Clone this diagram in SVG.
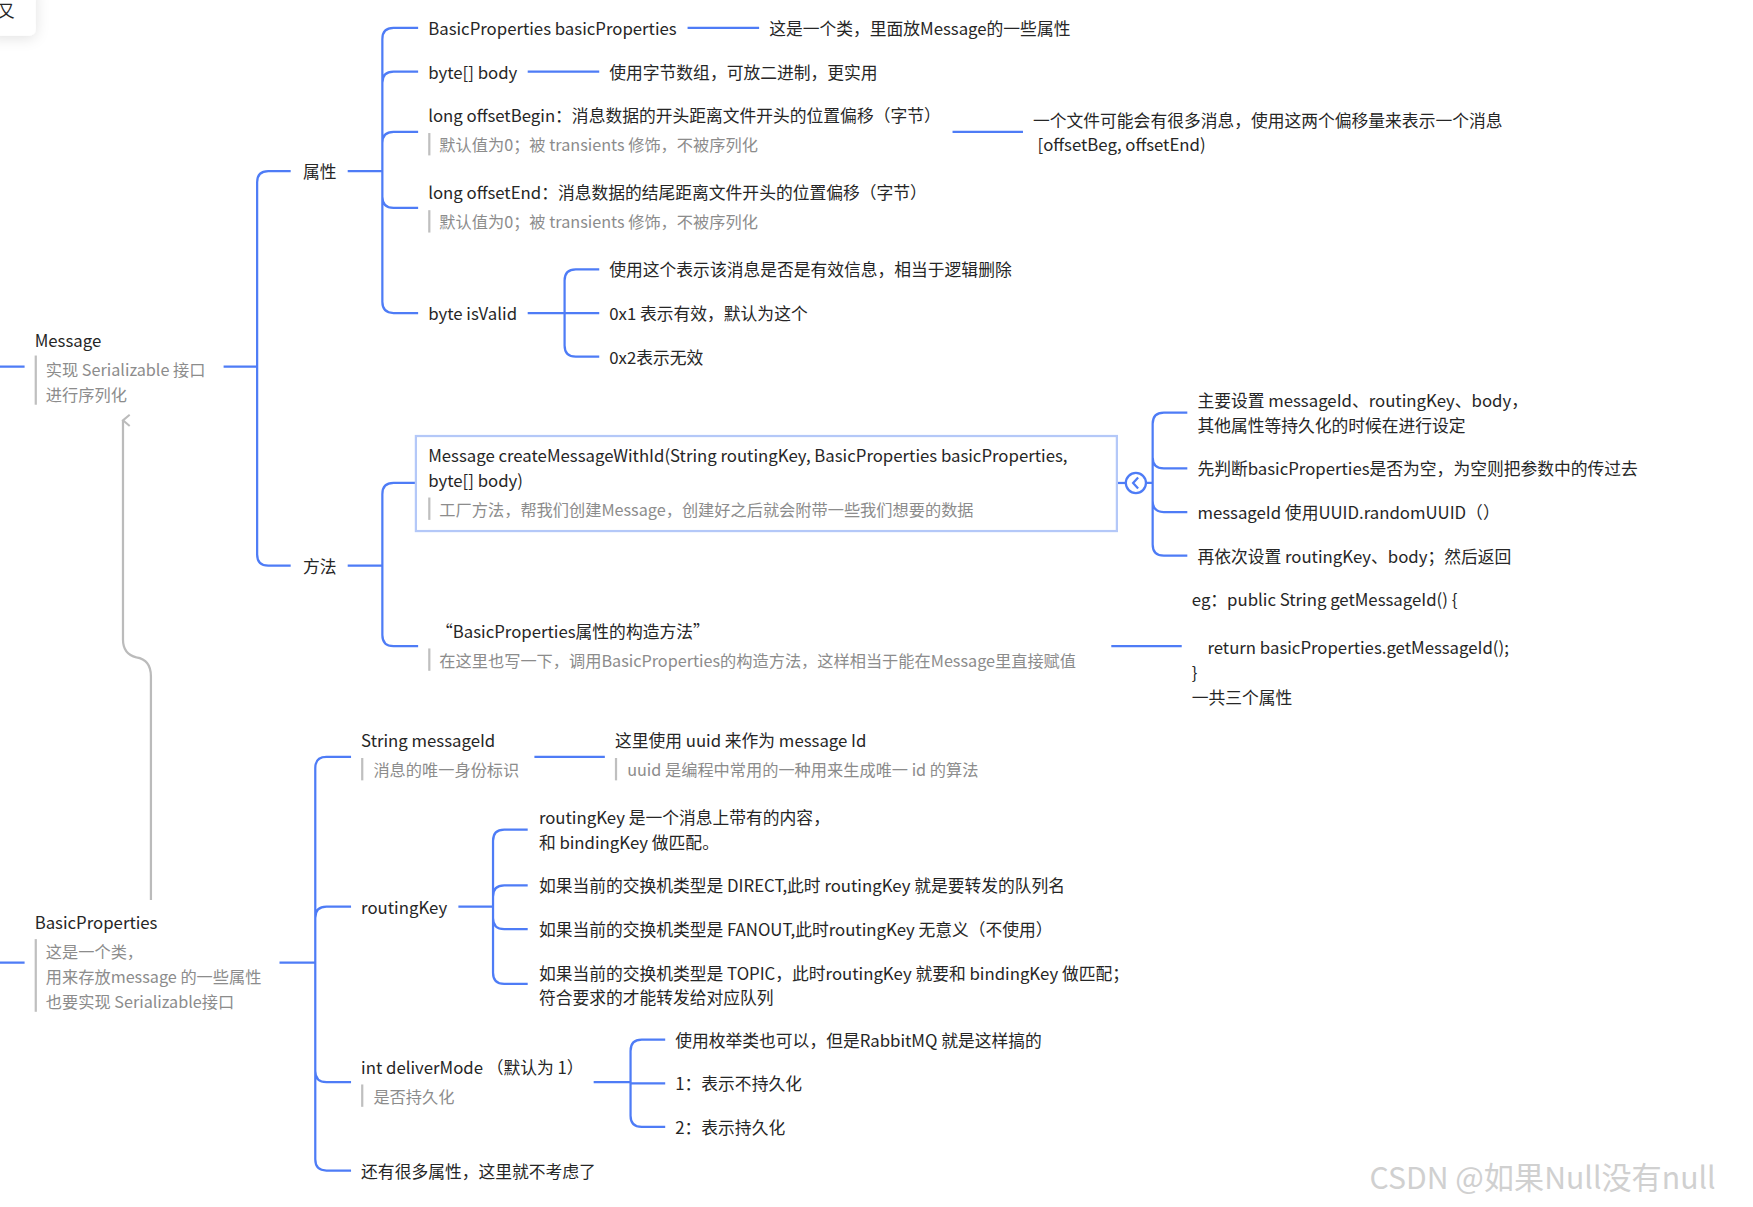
<svg xmlns="http://www.w3.org/2000/svg" width="1753" height="1207" viewBox="0 0 1753 1207">
<style>
text{font-family:"Noto Sans CJK SC","Noto Sans",sans-serif;dominant-baseline:central}
.t{font-size:15px;fill:#262626}
.n{font-size:14.5px;fill:#8c8c8c}
.c{fill:none;stroke:#4e7cf6;stroke-width:2}
.bar{stroke:#bfbfbf;stroke-width:2}
</style>
<defs>
<filter id="sh" x="-50%" y="-50%" width="200%" height="200%"><feDropShadow dx="0" dy="2" stdDeviation="6" flood-color="#000" flood-opacity="0.12"/></filter>
<marker id="ga" markerWidth="12" markerHeight="12" refX="6" refY="2" orient="auto" markerUnits="userSpaceOnUse"><path d="M1 8 L6 2 L11 8" fill="none" stroke="#bbb" stroke-width="1.8"/></marker>
</defs>
<rect width="1753" height="1207" fill="#fff"/>
<g transform="scale(1.118)">
<g id="corner"><rect x="-10" y="-12" width="42" height="44" rx="6" fill="#fff" filter="url(#sh)"/><text class="t" x="-2" y="9">又</text></g>
<g id="connectors">
<path class="c" d="M0 328H22M0 861H22"/>
<path class="c" d="M200 328H230V163Q230 153 240 153H260M200 328H230V496Q230 506 240 506H260"/>
<path class="c" d="M311 153H342V35Q342 25 352 25H374M342 153V74Q342 64 352 64H374M342 153V128Q342 118 352 118H374M342 153V176Q342 186 352 186H374M342 153V270Q342 280 352 280H374"/>
<path class="c" d="M615 25H679M472 64H536M852 118H915"/>
<path class="c" d="M472 280H505V251Q505 241 515 241H536M505 280H536M505 280V309Q505 319 515 319H536"/>
<path class="c" d="M311 506H342V442Q342 432 352 432H372M342 506V568Q342 578 352 578H374"/>
<path class="c" d="M999 432H1007"/>
<circle cx="1016" cy="432" r="9" fill="#fff" stroke="#4e7cf6" stroke-width="2"/>
<path class="c" d="M1018 427L1013.5 432L1018 437"/>
<path class="c" d="M1025 432H1031V379Q1031 369 1041 369H1062M1031 432V409Q1031 419 1041 419H1062M1031 432V448Q1031 458 1041 458H1062M1031 432V487Q1031 497 1041 497H1062"/>
<path class="c" d="M994 578H1057"/>
<path class="c" d="M250 861H282V687Q282 677 292 677H314M282 861V821Q282 811 292 811H314M282 861V958Q282 968 292 968H314M282 861V1037Q282 1047 292 1047H314"/>
<path class="c" d="M478 677H541"/>
<path class="c" d="M410 811H441V752Q441 742 451 742H472M441 811V802Q441 792 451 792H472M441 811V821Q441 831 451 831H472M441 811V870Q441 880 451 880H472"/>
<path class="c" d="M531 968H564V940Q564 930 574 930H595M564 968V969H595M564 968V998Q564 1008 574 1008H595"/>
<path d="M135 805V605Q135 590 122 588Q110 585 110 572V376" fill="none" stroke="#bbb" stroke-width="2" marker-end="url(#ga)"/>
</g>
<g id="message"><text class="t" x="31" y="304">Message</text><line class="bar" x1="32" y1="318" x2="32" y2="362"/><text class="n" x="41" y="330">实现 Serializable 接口</text><text class="n" x="41" y="352">进行序列化</text></g>
<g id="shuxing"><text class="t" x="271" y="153">属性</text></g>
<g id="fangfa"><text class="t" x="271" y="506">方法</text></g>
<g id="bp1"><text class="t" x="383" y="25">BasicProperties basicProperties</text><text class="t" x="688" y="25">这是一个类，里面放Message的一些属性</text></g>
<g id="body"><text class="t" x="383" y="64">byte[] body</text><text class="t" x="545" y="64">使用字节数组，可放二进制，更实用</text></g>
<g id="offb"><text class="t" x="383" y="103">long offsetBegin：消息数据的开头距离文件开头的位置偏移（字节）</text><line class="bar" x1="384" y1="119" x2="384" y2="139"/><text class="n" x="393" y="129">默认值为0；被 transients 修饰，不被序列化</text>
<text class="t" x="924" y="107">一个文件可能会有很多消息，使用这两个偏移量来表示一个消息</text><text class="t" x="928" y="129">[offsetBeg, offsetEnd)</text></g>
<g id="offe"><text class="t" x="383" y="172">long offsetEnd：消息数据的结尾距离文件开头的位置偏移（字节）</text><line class="bar" x1="384" y1="188" x2="384" y2="208"/><text class="n" x="393" y="198">默认值为0；被 transients 修饰，不被序列化</text></g>
<g id="valid"><text class="t" x="383" y="280">byte isValid</text><text class="t" x="545" y="241">使用这个表示该消息是否是有效信息，相当于逻辑删除</text><text class="t" x="545" y="280">0x1 表示有效，默认为这个</text><text class="t" x="545" y="319">0x2表示无效</text></g>
<g id="create"><rect x="372" y="390" width="627" height="85" fill="#fff" stroke="#b4c8f8" stroke-width="2"/><text class="t" x="383" y="407">Message createMessageWithId(String routingKey, BasicProperties basicProperties,</text><text class="t" x="383" y="429">byte[] body)</text><line class="bar" x1="384" y1="445" x2="384" y2="465"/><text class="n" x="393" y="455">工厂方法，帮我们创建Message，创建好之后就会附带一些我们想要的数据</text>
<text class="t" x="1071" y="358">主要设置 messageId、routingKey、body，</text><text class="t" x="1071" y="380">其他属性等持久化的时候在进行设定</text><text class="t" x="1071" y="419">先判断basicProperties是否为空，为空则把参数中的传过去</text><text class="t" x="1071" y="458">messageId 使用UUID.randomUUID（）</text><text class="t" x="1071" y="497">再依次设置 routingKey、body；然后返回</text></g>
<g id="ctor"><text class="t" x="390" y="564">“BasicProperties属性的构造方法”</text><line class="bar" x1="384" y1="580" x2="384" y2="600"/><text class="n" x="393" y="590">在这里也写一下，调用BasicProperties的构造方法，这样相当于能在Message里直接赋值</text>
<text class="t" x="1066" y="536">eg：public String getMessageId() {</text><text class="t" x="1080" y="579">return basicProperties.getMessageId();</text><text class="t" x="1066" y="601">}</text><text class="t" x="1066" y="623">一共三个属性</text></g>
<g id="basicprops"><text class="t" x="31" y="825">BasicProperties</text><line class="bar" x1="32" y1="840" x2="32" y2="905"/><text class="n" x="41" y="851">这是一个类，</text><text class="n" x="41" y="873">用来存放message 的一些属性</text><text class="n" x="41" y="895">也要实现 Serializable接口</text></g>
<g id="msgid"><text class="t" x="323" y="662">String messageId</text><line class="bar" x1="324" y1="678" x2="324" y2="698"/><text class="n" x="334" y="688">消息的唯一身份标识</text><text class="t" x="550" y="662">这里使用 uuid 来作为 message Id</text><line class="bar" x1="551" y1="678" x2="551" y2="698"/><text class="n" x="561" y="688">uuid 是编程中常用的一种用来生成唯一 id 的算法</text></g>
<g id="rk"><text class="t" x="323" y="811">routingKey</text><text class="t" x="482" y="731">routingKey 是一个消息上带有的内容，</text><text class="t" x="482" y="753">和 bindingKey 做匹配。</text><text class="t" x="482" y="792">如果当前的交换机类型是 DIRECT,此时 routingKey 就是要转发的队列名</text><text class="t" x="482" y="831">如果当前的交换机类型是 FANOUT,此时routingKey 无意义（不使用）</text><text class="t" x="482" y="870">如果当前的交换机类型是 TOPIC，此时routingKey 就要和 bindingKey 做匹配；</text><text class="t" x="482" y="892">符合要求的才能转发给对应队列</text></g>
<g id="dm"><text class="t" x="323" y="954">int deliverMode （默认为 1）</text><line class="bar" x1="324" y1="970" x2="324" y2="990"/><text class="n" x="334" y="980">是否持久化</text><text class="t" x="604" y="930">使用枚举类也可以，但是RabbitMQ 就是这样搞的</text><text class="t" x="604" y="969">1：表示不持久化</text><text class="t" x="604" y="1008">2：表示持久化</text></g>
<g id="more"><text class="t" x="323" y="1047">还有很多属性，这里就不考虑了</text></g>
<text x="1225" y="1052" style="font-size:27px;fill:#d0d0d0">CSDN @如果Null没有null</text>
</g>
</svg>
